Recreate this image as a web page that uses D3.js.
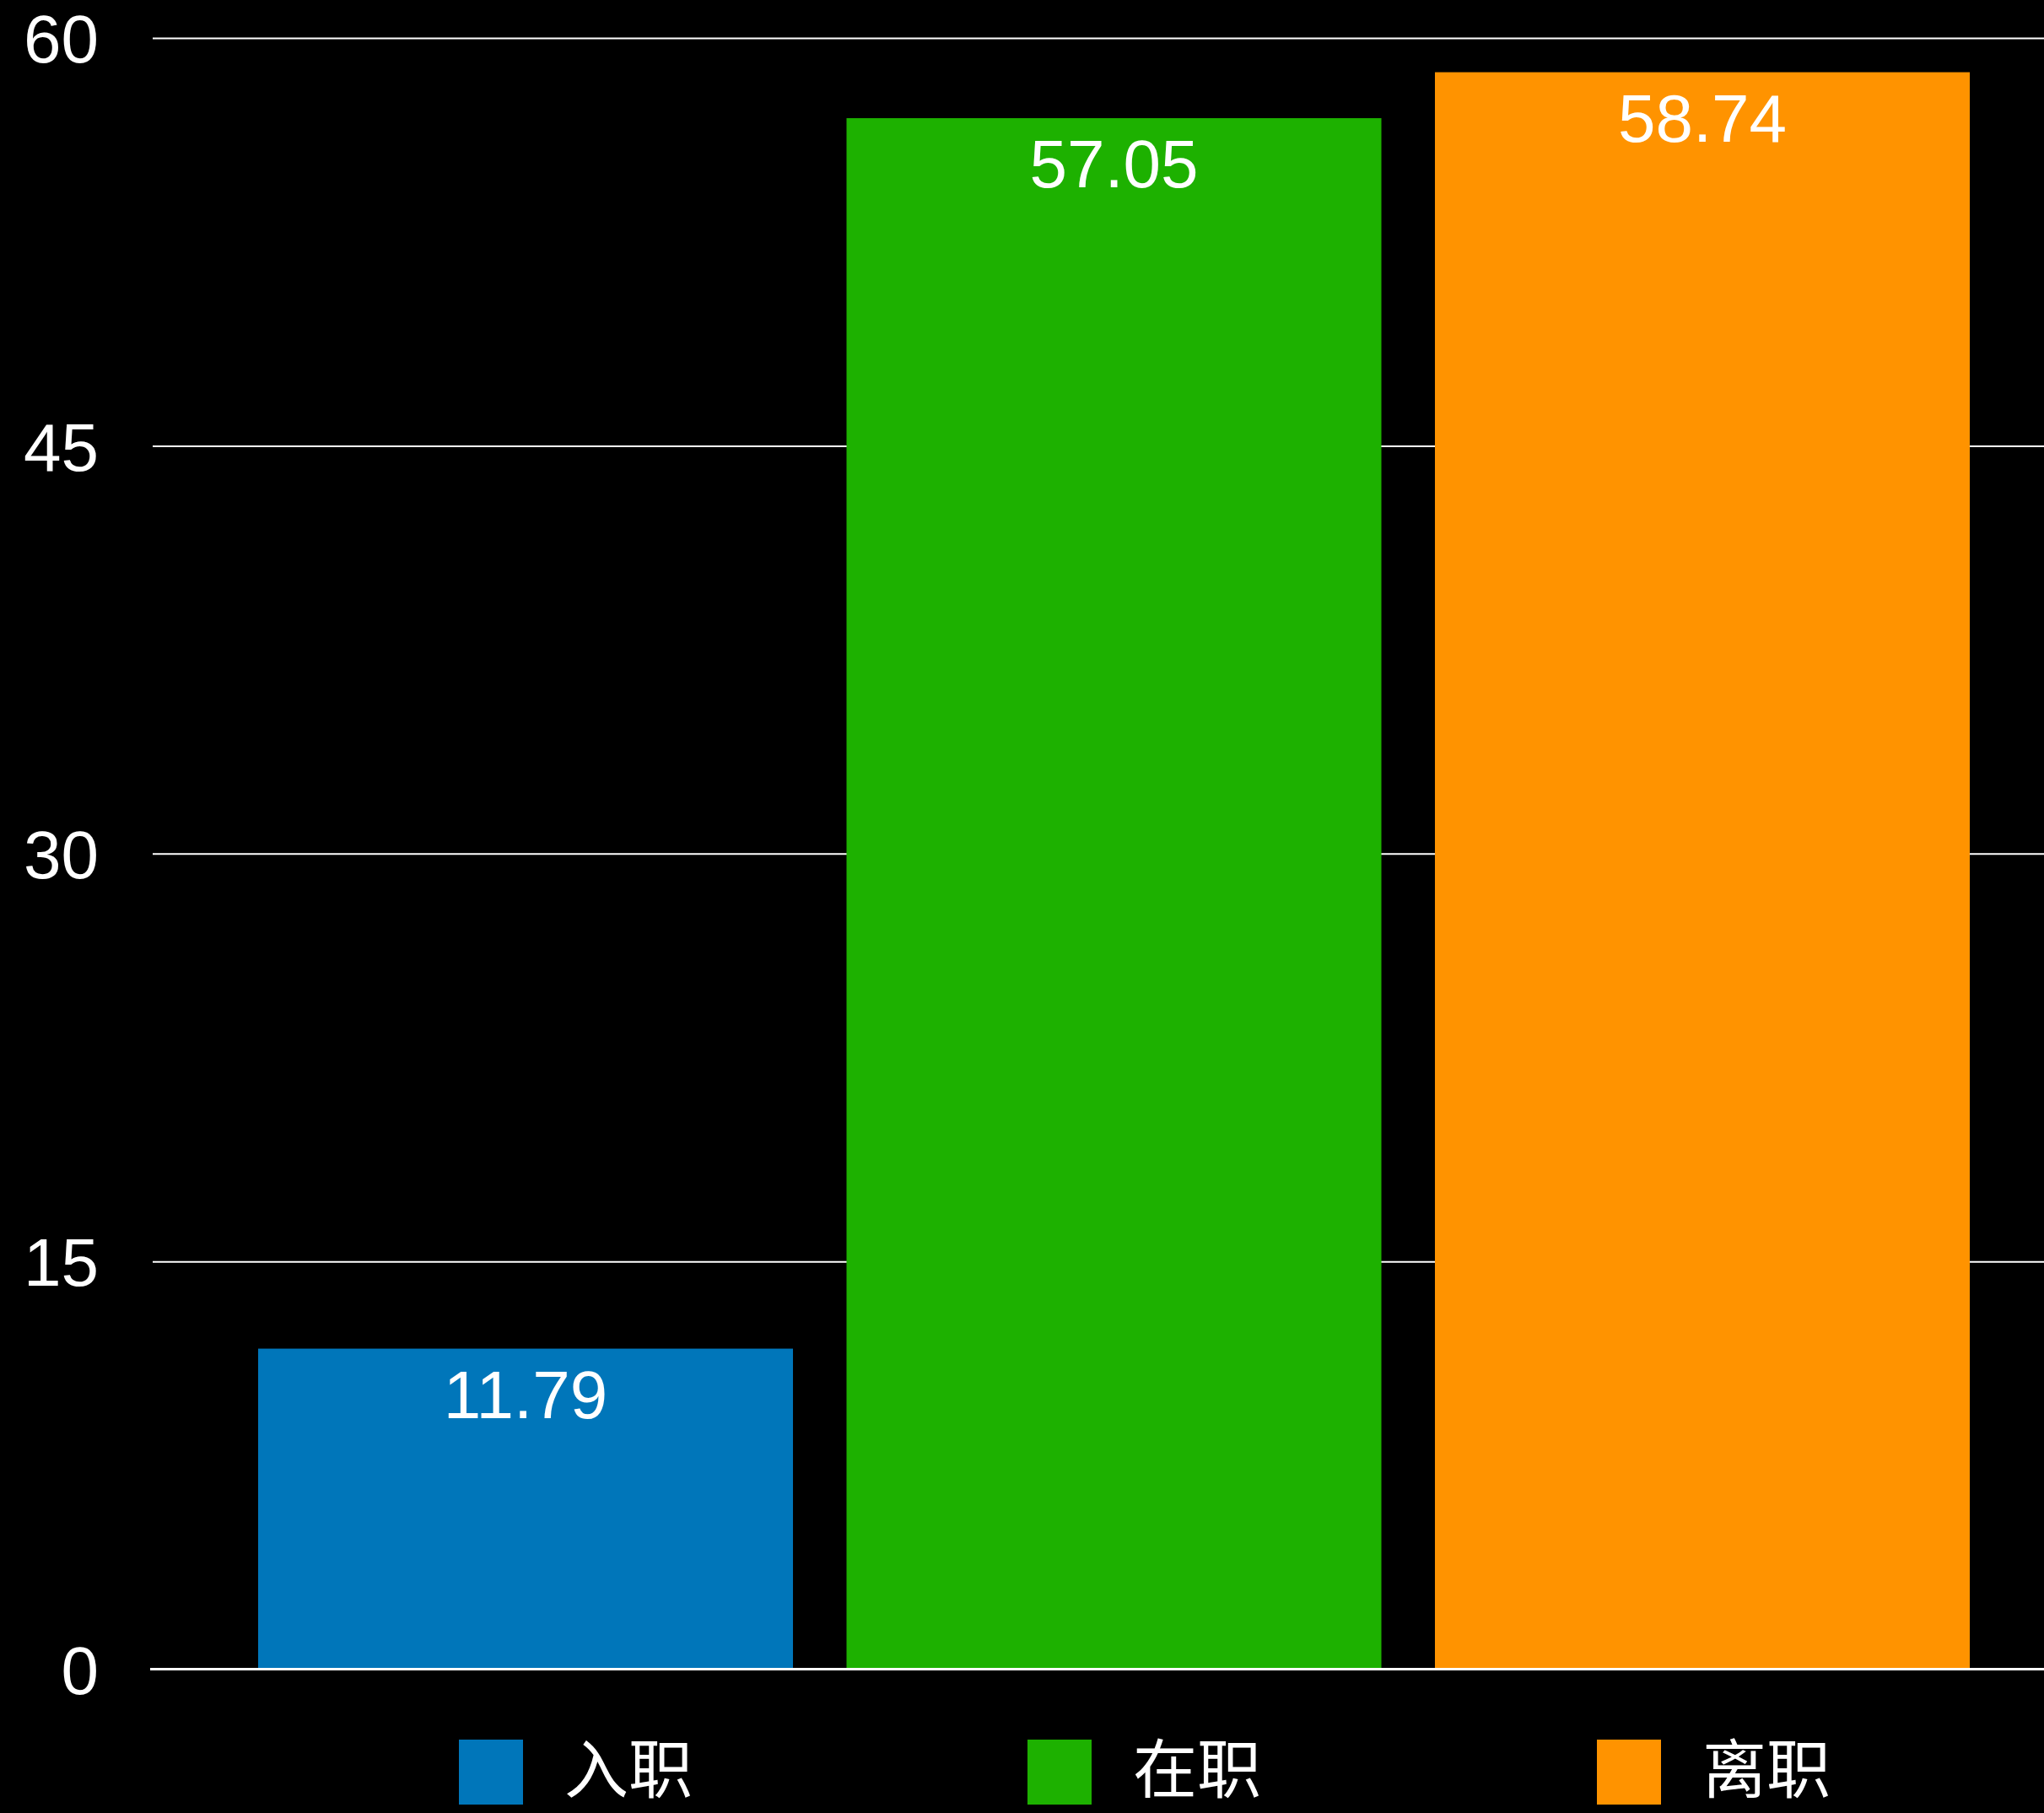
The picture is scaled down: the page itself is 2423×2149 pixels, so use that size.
<!DOCTYPE html>
<html>
<head>
<meta charset="utf-8">
<script src="https://cdn.jsdelivr.net/npm/d3@7/dist/d3.min.js"></script>
<style>
  html, body { margin: 0; padding: 0; background: #000; }
  svg { display: block; }
</style>
</head>
<body>
<svg id="chart" width="2423" height="2149"></svg>
<script>
const categories = ["入职", "在职", "离职"];
const values = [11.79, 57.05, 58.74];
const colors = ["#0076BA", "#1DB100", "#FF9300"];
const yTicks = [0, 15, 30, 45, 60];

const W = 2423, H = 2149;
const latin = '"Helvetica Neue", Helvetica, "Liberation Sans", Arial, sans-serif';
const cjk = '"Noto Sans CJK SC", "Noto Sans", sans-serif';

const svg = d3.select("#chart");
svg.append("rect").attr("width", W).attr("height", H).attr("fill", "#000");

const y = d3.scaleLinear().domain([0, 60]).range([1978.5, 45]);
const x = d3.scaleBand().domain(categories)
  .range([274.25, 2366.75]).paddingInner(0.091).paddingOuter(0.0455);

// gridlines + tick labels
const axisX = 181;
const axis = d3.axisLeft(y).tickValues(yTicks)
  .tickSize(-(W - axisX)).tickPadding(64).tickFormat(d3.format("d"));
const gAxis = svg.append("g").attr("transform", `translate(${axisX},0)`).call(axis);
gAxis.select(".domain").remove();
gAxis.selectAll(".tick line").attr("stroke", "#fff").attr("stroke-width", 2);
gAxis.selectAll(".tick text")
  .attr("fill", "#fff").attr("font-family", latin).attr("font-size", 80)
  .attr("dy", "0.36em");
gAxis.attr("font-family", null).attr("font-size", null);

// bars
svg.append("g").selectAll("rect").data(values).join("rect")
  .attr("x", (d, i) => x(categories[i]))
  .attr("y", d => y(d))
  .attr("width", x.bandwidth())
  .attr("height", d => y(0) - y(d))
  .attr("fill", (d, i) => colors[i]);

// baseline
svg.append("line")
  .attr("x1", 178).attr("x2", W)
  .attr("y1", y(0)).attr("y2", y(0))
  .attr("stroke", "#fff").attr("stroke-width", 3);

// value labels
svg.append("g").selectAll("text").data(values).join("text")
  .attr("x", (d, i) => x(categories[i]) + x.bandwidth() / 2)
  .attr("y", d => y(d) + 82)
  .attr("text-anchor", "middle")
  .attr("fill", "#fff")
  .attr("font-family", latin)
  .attr("font-size", 80)
  .text(d => d.toFixed(2));

// legend
const legendX = [544, 1218, 1893];
const lg = svg.append("g").selectAll("g").data(categories).join("g")
  .attr("transform", (d, i) => `translate(${legendX[i]},2062)`);
lg.append("rect").attr("width", 76).attr("height", 77)
  .attr("fill", (d, i) => colors[i]);
lg.append("text")
  .attr("x", 125).attr("y", 63)
  .attr("fill", "#fff")
  .attr("font-family", cjk)
  .attr("font-size", 76)
  .text(d => d);
</script>
</body>
</html>
